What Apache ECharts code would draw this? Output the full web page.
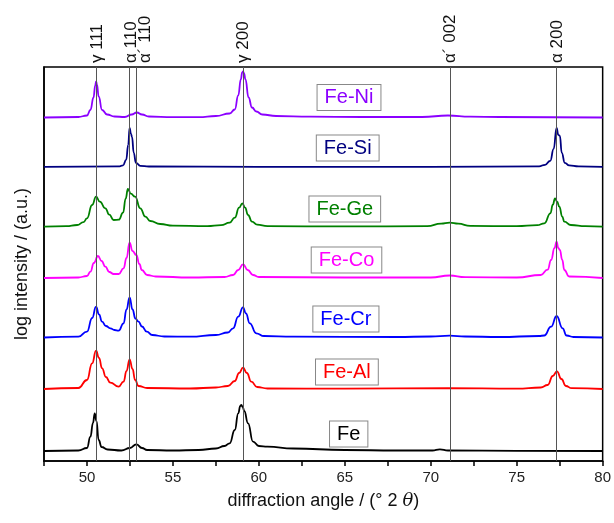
<!DOCTYPE html>
<html>
<head>
<meta charset="utf-8">
<script src="https://cdn.jsdelivr.net/npm/echarts@6/dist/echarts.min.js"></script>
<style>
  html, body { margin: 0; padding: 0; background: #fff; }
  #main { width: 614px; height: 523px; }
</style>
</head>
<body>
<div id="main"></div>
<script>
// peak positions marked with vertical lines (deg 2 theta)
const refLines = [50.55, 52.45, 52.84, 59.08, 71.13, 77.3];
const refNames = ['γ 111', 'α 110', 'α´ 110', 'γ 200', 'α´ 002', 'α 200'];

const xTickValues = [47.5, 50, 52.5, 55, 57.5, 60, 62.5, 65, 67.5, 70, 72.5, 75, 77.5, 80];
const xLabelValues = [50, 55, 60, 65, 70, 75, 80];

const sampleNames = ['Fe-Ni', 'Fe-Si', 'Fe-Ge', 'Fe-Co', 'Fe-Cr', 'Fe-Al', 'Fe'];
// vertical offset of each pattern (stacked plot)
const offsets = [343.5, 294.2, 234.3, 183, 123.5, 72, 10];

// [angle, intensity above own baseline]
const feNi = [[47.5,0],[49.5,0.5],[50.0,2],[50.2,7.5],[50.38,20],[50.48,32],[50.53,36],[50.58,33],[50.68,21],[50.88,7.5],[51.17,3],[51.6,1],[52.2,0.5],[52.6,3],[52.9,5],[53.2,3],[53.6,1],[55,0.3],[56.5,0.3],[57.5,1.5],[58.3,4],[58.6,8],[58.8,22],[58.95,38],[59.03,45],[59.08,46],[59.14,44],[59.22,38],[59.4,20],[59.6,10],[59.85,6],[60.2,3],[61,1.5],[63,0.8],[66,0.5],[69.5,0.5],[71.0,2],[72.3,0.8],[74,0.5],[80,0]];
const feSi = [[47.5,0],[51.9,0.5],[52.1,1.5],[52.28,7],[52.4,22],[52.48,39],[52.56,33],[52.62,30],[52.72,14],[52.85,4],[53.1,1],[53.6,0.3],[60,0],[70,0],[76.3,0.5],[76.65,2],[76.95,6],[77.15,18],[77.32,39],[77.42,32],[77.51,31],[77.62,14],[77.8,4],[78.05,1.5],[78.6,0.5],[80,0]];
const feGe = [[47.5,0],[48.8,0.5],[49.43,1.7],[49.8,4.5],[50.0,8.4],[50.3,21.7],[50.53,30],[50.75,25],[51.07,18.4],[51.3,12],[51.55,6.7],[51.85,7],[52.1,14],[52.25,28],[52.38,37.7],[52.55,33],[52.8,30],[53.1,18.4],[53.4,10],[53.68,5.7],[54.26,2.7],[55,1],[57,0.5],[57.8,1.5],[58.3,4],[58.6,9],[58.85,19],[59.04,23.4],[59.2,19],[59.37,11.7],[59.6,5],[59.9,2],[60.5,0.5],[65,0.3],[69.8,0.5],[70.6,3],[71.1,4],[71.6,3],[72.3,0.8],[75,0.5],[76.2,1.5],[76.61,3.4],[76.96,13.4],[77.1,22],[77.23,28.4],[77.35,25],[77.48,20],[77.65,10],[77.77,5],[78.15,1.7],[79,0.5],[80,0]];
const feCo = [[47.5,0],[49.5,0.5],[50.0,2],[50.2,6.3],[50.4,15],[50.64,22],[50.85,17],[51.07,11.3],[51.3,6],[51.55,4],[51.85,4],[52.13,9.7],[52.3,20],[52.48,35.3],[52.65,27],[52.87,23],[53.05,14],[53.19,8],[53.5,3],[54,1.5],[56,0.5],[58,1],[58.5,3],[58.8,8],[59.08,13.7],[59.35,8],[59.66,3],[60,1],[65,0.5],[70,0.5],[71.1,2.5],[72,0.8],[75,0.5],[76.4,3],[76.8,8.3],[77.0,18],[77.2,30],[77.32,36.3],[77.42,30],[77.51,28],[77.65,18],[77.77,8],[78.05,1.5],[80,0]];
const feCr = [[47.5,0],[49.5,0.8],[50.0,5.8],[50.3,19.5],[50.53,30.8],[50.7,23],[50.88,15.8],[51.1,11.5],[51.36,9.2],[51.6,7.5],[51.84,6.8],[52.13,14.2],[52.3,28],[52.48,40.2],[52.65,28],[52.82,19],[53.0,15.8],[53.2,11],[53.48,5.8],[53.8,2.5],[54.5,1],[56,0.8],[57.5,2.5],[58.2,5],[58.5,9.2],[58.8,20.8],[59.08,30.2],[59.25,24],[59.47,14.2],[59.85,4.2],[60.3,1.5],[62,0.8],[68,0.5],[70,1],[71.1,1.8],[72,1],[74,0.5],[76.3,1.5],[76.6,2],[77.0,10.8],[77.32,21.5],[77.67,9.2],[77.9,2],[78.3,0.5],[80,0]];
const feAl = [[47.5,0],[49.5,1],[50.0,9],[50.3,25.7],[50.53,38.3],[50.7,31],[50.88,20.7],[51.1,12],[51.36,6.3],[51.84,2.3],[52.13,7.3],[52.3,18],[52.48,29.7],[52.65,20],[52.8,9],[53.0,3],[53.5,1],[56,0.5],[57.5,1.5],[58.2,3],[58.6,8],[58.85,16],[59.08,21.3],[59.3,16],[59.56,7.3],[59.9,2],[60.5,0.5],[65,0.3],[71,0.8],[75,0.3],[76.4,1.5],[76.8,4],[77.1,13],[77.34,17.7],[77.6,10],[77.86,3],[78.2,0.8],[80,0]];
const fe = [[47.5,0],[49.5,0.5],[50.0,3],[50.2,14.3],[50.35,28],[50.45,37.7],[50.55,30],[50.68,11],[50.85,4],[51.2,1.5],[52.0,0.5],[52.5,3],[52.87,6.7],[53.2,3],[53.5,1],[55,0.5],[56.5,1],[57.5,2.5],[58.0,5],[58.3,7.7],[58.6,21],[58.8,37.7],[58.92,45],[58.98,46],[59.06,44],[59.15,40],[59.37,27.7],[59.66,9.3],[60.0,5],[60.5,4.3],[62,2.5],[65,1],[68,0.5],[70.1,0.5],[70.53,1.7],[71,0.5],[75,0.2],[80,0]];

const patterns = [feNi, feSi, feGe, feCo, feCr, feAl, fe];
const colors = ['#8b00ff', '#000080', '#008000', '#ff00ff', '#0000ff', '#ff0000', '#000000'];

const fontFamily = 'Arial, "Liberation Sans", sans-serif';

const series = patterns.map((pts, i) => ({
  name: sampleNames[i],
  type: 'line',
  data: pts.map(p => [p[0], p[1] + offsets[i]]),
  showSymbol: false,
  smooth: 0.5,
  smoothMonotone: 'x',
  lineStyle: { color: colors[i], width: 1.8 },
  itemStyle: { color: colors[i] },
  z: 3,
  silent: true,
}));

// vertical reference lines
series.push({
  type: 'line',
  data: [],
  silent: true,
  markLine: {
    symbol: 'none',
    silent: true,
    label: { show: false },
    lineStyle: { color: '#555', width: 1, type: 'solid' },
    data: refLines.map(v => ({ xAxis: v })),
  },
  z: 2,
});

const option = {
  animation: false,
  backgroundColor: '#fff',
  grid: {
    left: 44,
    right: 9,
    top: 67,
    bottom: 62,
    show: true,
    borderColor: '#000',
    borderWidth: 1.5,
  },
  xAxis: {
    type: 'value',
    min: 47.5,
    max: 80,
    name: 'diffraction angle / (° 2 {i|θ})',
    nameLocation: 'middle',
    nameGap: 31,
    nameTextStyle: {
      fontSize: 18,
      color: '#111',
      fontFamily: fontFamily,
      rich: { i: { fontStyle: 'italic', fontSize: 18, fontFamily: 'DejaVu Serif, serif', color: '#111' } },
    },
    axisLine: { lineStyle: { color: '#000', width: 1.5 } },
    axisTick: { customValues: xTickValues, length: 5, inside: false, lineStyle: { color: '#000', width: 1.5 } },
    axisLabel: { customValues: xLabelValues, fontSize: 15, color: '#222', margin: 9, fontFamily: fontFamily },
    splitLine: { show: false },
  },
  yAxis: {
    type: 'value',
    min: 0,
    max: 394,
    name: 'log intensity / (a.u.)',
    nameLocation: 'middle',
    nameGap: 13,
    nameTextStyle: { fontSize: 18, color: '#111', fontFamily: fontFamily },
    axisLine: { show: true, lineStyle: { color: '#000', width: 1.5 } },
    axisTick: { show: false },
    axisLabel: { show: false },
    splitLine: { show: false },
  },
  series: series,
};

const chart = echarts.init(document.getElementById('main'), null, { renderer: 'canvas' });
chart.setOption(option);

// sample labels (boxed) and rotated reflex labels above the frame
const labelCenters = [[349, 97.5], [347.7, 148], [344.8, 209], [346.5, 260], [345.9, 319], [346.9, 372], [348.7, 434]];
const refShift = [0.5, 2.5, 10, 0.5, 0.5, 1];

const graphics = [];
sampleNames.forEach((n, i) => {
  graphics.push({
    type: 'text',
    x: labelCenters[i][0],
    y: labelCenters[i][1],
    z: 10,
    style: {
      text: n,
      fill: colors[i],
      font: '20px ' + fontFamily,
      align: 'center',
      verticalAlign: 'middle',
      backgroundColor: '#fff',
      borderColor: '#888',
      borderWidth: 1,
      padding: [3, 7, 2, 7],
    },
  });
});
refLines.forEach((v, i) => {
  const px = chart.convertToPixel({ xAxisIndex: 0 }, v);
  graphics.push({
    type: 'text',
    x: px + refShift[i],
    y: 63,
    rotation: Math.PI / 2,
    z: 10,
    style: {
      text: refNames[i],
      fill: '#111',
      font: '17px ' + fontFamily,
      align: 'left',
      verticalAlign: 'middle',
    },
  });
});
chart.setOption({ graphic: graphics });
</script>
</body>
</html>
